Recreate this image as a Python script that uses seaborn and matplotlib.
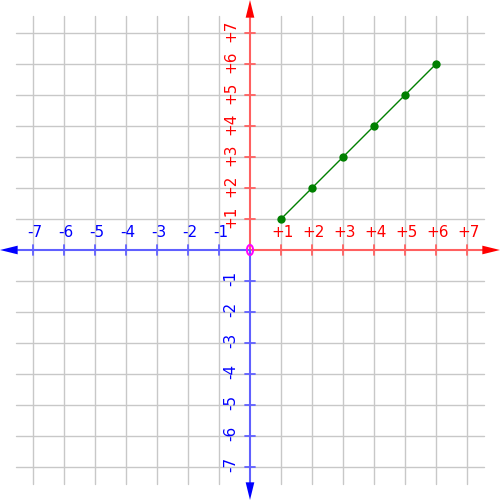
import matplotlib
matplotlib.use("Agg")
import matplotlib.pyplot as plt
from matplotlib.patches import Ellipse
import seaborn as sns
import pandas as pd

sns.set_theme(style="white")
plt.rcParams['font.family'] = ['DejaVu Sans']

# data
xs = [1, 2, 3, 4, 5, 6]
ys = [1, 2, 3, 4, 5, 6]
ticks = [-7, -6, -5, -4, -3, -2, -1, 1, 2, 3, 4, 5, 6, 7]
tick_labels = ["-7", "-6", "-5", "-4", "-3", "-2", "-1", "+1", "+2", "+3", "+4", "+5", "+6", "+7"]

df = pd.DataFrame({"x": xs, "y": ys})

fig = plt.figure(figsize=(5, 5), dpi=100)
ax = fig.add_axes([0, 0, 1, 1])
L = 250 / 31.0
ax.set_xlim(-L, L)
ax.set_ylim(-L, L)
ax.set_axis_off()

# grid
G = 7.55
for t in ticks:
    ax.plot([t, t], [-G, G], color="#c8c8c8", lw=1.0, zorder=1)
    ax.plot([-G, G], [t, t], color="#c8c8c8", lw=1.0, zorder=1)

red = "#ff0000"
blue = "#0000ff"
lred = "#ff6060"
lblue = "#6060ff"
A = 7.5
# axis lines
ax.plot([0, A], [0, 0], color=lred, lw=1.5, zorder=2)
ax.plot([-A, 0], [0, 0], color=lblue, lw=1.5, zorder=2)
ax.plot([0, 0], [0, A], color=lred, lw=1.5, zorder=2)
ax.plot([0, 0], [-A, 0], color=lblue, lw=1.5, zorder=2)
# arrowheads
hw, hl = 0.14, 0.57
ax.fill([L, L - hl, L - hl], [0, hw, -hw], color=red, zorder=3, lw=0)
ax.fill([-L, -L + hl, -L + hl], [0, hw, -hw], color=blue, zorder=3, lw=0)
ax.fill([0, hw, -hw], [L, L - hl, L - hl], color=red, zorder=3, lw=0)
ax.fill([0, hw, -hw], [-L, -L + hl, -L + hl], color=blue, zorder=3, lw=0)

tk = 0.17
for t, lab in zip(ticks, tick_labels):
    c = red if t > 0 else blue
    lc = lred if t > 0 else lblue
    ax.plot([t, t], [-tk, tk], color=lc, lw=1.3, zorder=2)
    ax.plot([-tk, tk], [t, t], color=lc, lw=1.3, zorder=2)
    ax.text(t + 0.06, 0.33, lab, color=c, fontsize=11, ha="center", va="bottom", zorder=4)
    ax.text(-0.37, t + 0.08, lab, color=c, fontsize=11, ha="right", va="center",
            rotation=90, zorder=4)

# origin
ax.add_patch(Ellipse((0, 0), 0.2, 0.33, fill=False, ec="#ff00ff", lw=1.4, zorder=5))

# data line
sns.lineplot(data=df, x="x", y="y", ax=ax, color="#008000", lw=1.0,
             marker="o", markersize=6, markeredgewidth=0, zorder=6)
ax.set_xlim(-L, L)
ax.set_ylim(-L, L)
ax.set_axis_off()

fig.savefig("out.png", dpi=100)
